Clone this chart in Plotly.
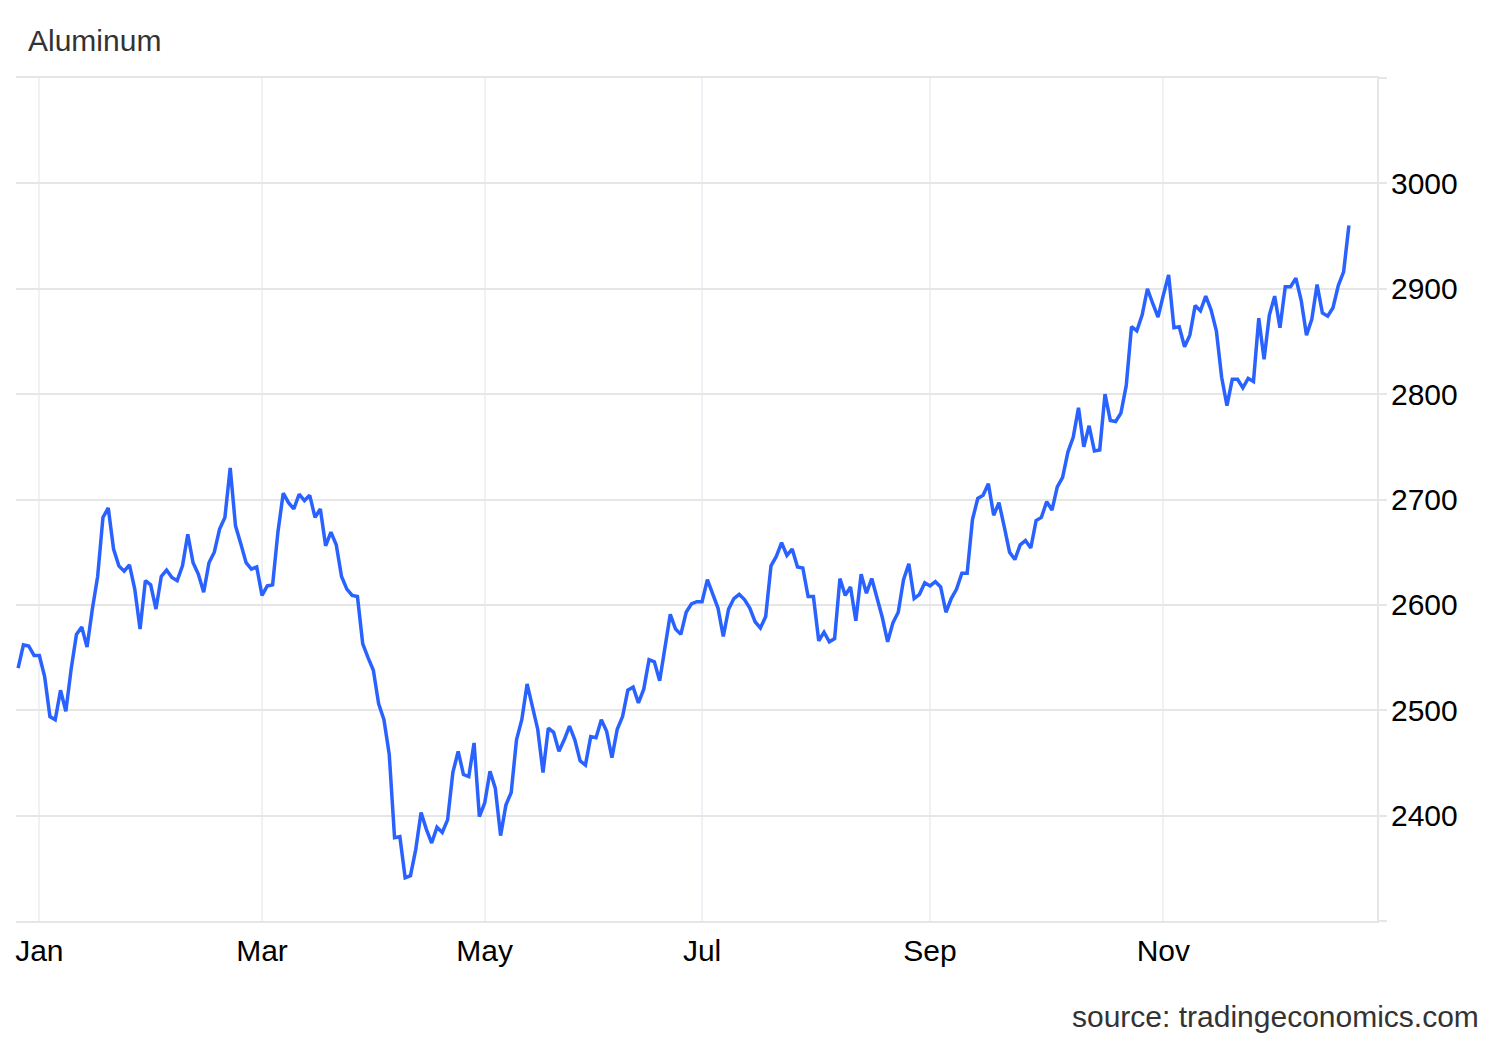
import plotly.graph_objects as go

# LME aluminium, USD/t — one value per trading session
prices = [
    2540, 2562, 2561, 2552, 2552, 2532, 2494, 2491, 2519, 2499,
    2539, 2572, 2579, 2560, 2596, 2627, 2683, 2692, 2653, 2637,
    2632, 2638, 2615, 2577, 2623, 2619, 2596, 2627, 2633, 2626,
    2623, 2637, 2667, 2640, 2629, 2612, 2640, 2650, 2672, 2683,
    2730, 2675, 2658, 2640, 2634, 2636, 2609, 2618, 2619, 2669,
    2706, 2697, 2691, 2705, 2699, 2704, 2683, 2691, 2656, 2669,
    2657, 2627, 2615, 2609, 2608, 2563, 2550, 2538, 2506, 2491,
    2458, 2379, 2380, 2341, 2343, 2368, 2403, 2387, 2374, 2389,
    2384, 2396, 2441, 2461, 2439, 2437, 2469, 2399, 2412, 2442,
    2426, 2381, 2410, 2422, 2472, 2491, 2525, 2504, 2482, 2441,
    2483, 2479, 2461, 2472, 2485, 2472, 2452, 2448, 2475, 2474,
    2491, 2480, 2455, 2482, 2494, 2519, 2522, 2507, 2520, 2548,
    2546, 2528, 2558, 2591, 2577, 2572, 2593, 2601, 2603, 2603,
    2624, 2610, 2597, 2570, 2596, 2606, 2610, 2605, 2597, 2584,
    2578, 2589, 2637, 2646, 2659, 2647, 2653, 2636, 2635, 2608,
    2608, 2566, 2574, 2565, 2568, 2625, 2609, 2617, 2585, 2629,
    2611, 2625, 2607, 2588, 2565, 2583, 2593, 2624, 2639, 2606,
    2610, 2621, 2618, 2622, 2617, 2593, 2606, 2615, 2630, 2630,
    2681, 2701, 2704, 2715, 2685, 2697, 2674, 2650, 2643, 2657,
    2661, 2654, 2680, 2683, 2698, 2690, 2712, 2721, 2745, 2759,
    2787, 2750, 2770, 2746, 2747, 2800, 2775, 2774, 2782, 2808,
    2864, 2860, 2875, 2900, 2886, 2873, 2894, 2913, 2863, 2864,
    2845, 2856, 2884, 2879, 2893, 2880, 2860, 2816, 2789, 2814,
    2814, 2806, 2815, 2812, 2872, 2833, 2875, 2893, 2863, 2902,
    2902, 2910, 2889, 2856, 2871, 2904, 2877, 2874, 2882, 2903,
    2916, 2960,
]
sessions = list(range(len(prices)))

# first session of each labelled month
month_sessions = [4, 46, 88, 129, 172, 216]
month_labels = ["Jan", "Mar", "May", "Jul", "Sep", "Nov"]

price_ticks = [2300, 2400, 2500, 2600, 2700, 2800, 2900, 3000, 3100]
price_labels = ["", "2400", "2500", "2600", "2700", "2800", "2900", "3000", ""]

FONT = "Liberation Sans, Arial, Helvetica, sans-serif"
GRID = "#e6e6e6"

# the page body adds 8px around the figure, so the figure is 8px smaller
W, H = 1492, 1032

fig = go.Figure()
fig.add_trace(go.Scatter(
    x=sessions, y=prices,
    mode="lines",
    line=dict(color="#2962ff", width=3.5),
    hovertemplate="%{y}<extra>Aluminum</extra>",
    showlegend=False,
))

fig.update_layout(
    width=W, height=H,
    margin=dict(l=8, r=123, t=70, b=119),
    paper_bgcolor="white",
    plot_bgcolor="white",
    font=dict(family=FONT, size=30, color="#000000"),
    title=dict(
        text="Aluminum", x=20 / W, xanchor="left", xref="container",
        y=1 - 32 / H, yanchor="middle", yref="container",
        font=dict(family=FONT, size=30, color="#333333"),
    ),
    xaxis=dict(
        range=[-0.4, 256.3],
        tickmode="array", tickvals=month_sessions, ticktext=month_labels,
        showgrid=True, gridcolor="#eef1f5", gridwidth=1.5,
        showline=True, mirror=True, linecolor=GRID, linewidth=2,
        ticks="", ticklabelstandoff=2,
        zeroline=False,
    ),
    yaxis=dict(
        side="right",
        range=[2300, 3100],
        tickmode="array", tickvals=price_ticks, ticktext=price_labels,
        showgrid=True, gridcolor=GRID, gridwidth=1.5,
        showline=True, linecolor=GRID, linewidth=2,
        ticks="outside", ticklen=8, tickcolor=GRID, tickwidth=2,
        ticklabelstandoff=-2,
        zeroline=False,
    ),
    annotations=[dict(
        text="source: tradingeconomics.com",
        xref="paper", yref="paper",
        x=(1481 - 16) / 1361, y=(921 - 1016) / 843,
        xanchor="right", yanchor="middle",
        showarrow=False,
        font=dict(family=FONT, size=30, color="#333333"),
    )],
)

fig.write_html("out.html")
